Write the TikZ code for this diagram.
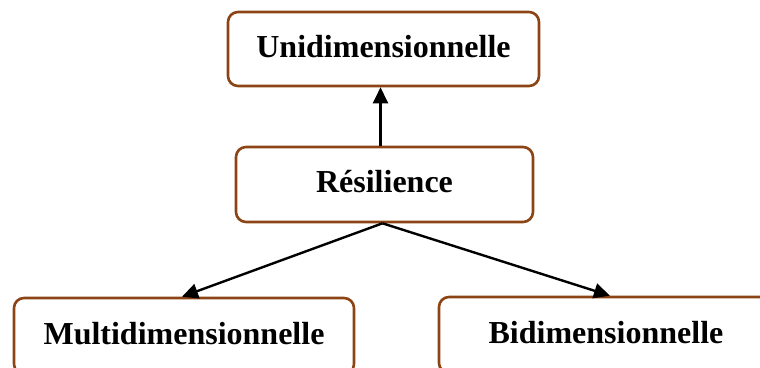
\documentclass[tikz,border=0pt]{standalone}
\usepackage{fontspec}
\setmainfont{Liberation Serif}
\usetikzlibrary{arrows.meta}
\definecolor{boxbrown}{RGB}{140,68,20}
\tikzset{
  box/.style={draw=boxbrown, line width=2.6pt, rounded corners=10pt, fill=white,
    font=\fontsize{32}{38}\selectfont\bfseries, text height=24pt, text depth=8pt,
    inner sep=0pt},
  arr/.style={line width=2.4pt, -{Triangle[length=16pt,width=15pt]}}
}
\begin{document}
\begin{tikzpicture}[x=1pt,y=-1pt]
  \useasboundingbox (0,0) rectangle (760,367);
  \clip (0,0) rectangle (760,367);
  \node[box, minimum width=311pt, minimum height=74pt] (uni) at (383.5,49) {Unidimensionnelle};
  \node[box, minimum width=297pt, minimum height=75pt] (res) at (384.5,184.5) {Résilience};
  \node[box, minimum width=340pt, minimum height=76pt] (multi) at (184,336) {Multidimensionnelle};
  \node[box, minimum width=334pt, minimum height=76pt] (bidi) at (606,335) {Bidimensionnelle};
  \draw[arr] ([xshift=-4pt]res.north) -- ([xshift=-4pt]res.north |- uni.south);
  \draw[arr] ([xshift=-2pt]res.south) -- ([xshift=-2pt]multi.north);
  \draw[arr] ([xshift=-2pt]res.south) -- ([xshift=4pt]bidi.north);
\end{tikzpicture}
\end{document}
